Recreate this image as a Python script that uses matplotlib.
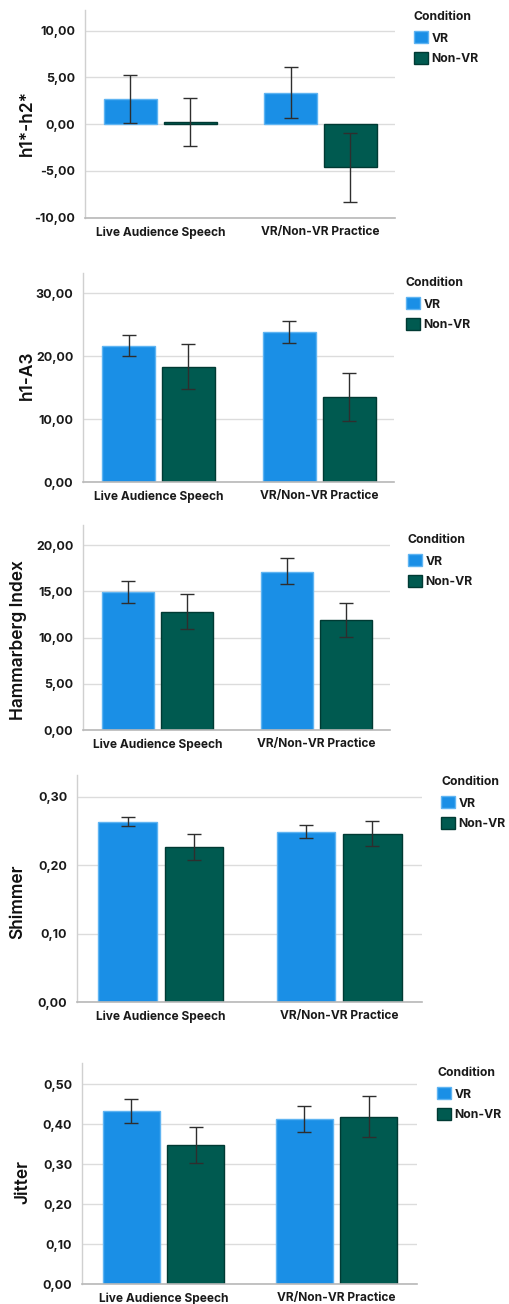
import matplotlib
matplotlib.use("Agg")
import matplotlib.pyplot as plt
from matplotlib.ticker import FuncFormatter

plt.rcParams["font.family"] = ["Inter", "DejaVu Sans"]

W, H = 509, 1304
DPI = 100

categories = ["Live Audience Speech", "VR/Non-VR Practice"]
conditions = ["VR", "Non-VR"]

# Means and 95% CI bounds per measure: [Live Audience Speech, VR/Non-VR Practice]
h1h2_vr = [2.65, 3.30]
h1h2_vr_lo = [0.15, 0.60]
h1h2_vr_hi = [5.20, 6.10]
h1h2_nvr = [0.20, -4.60]
h1h2_nvr_lo = [-2.30, -8.30]
h1h2_nvr_hi = [2.80, -0.95]

h1a3_vr = [21.6, 23.8]
h1a3_vr_lo = [20.0, 22.1]
h1a3_vr_hi = [23.3, 25.6]
h1a3_nvr = [18.2, 13.5]
h1a3_nvr_lo = [14.7, 9.7]
h1a3_nvr_hi = [21.9, 17.3]

hamm_vr = [14.9, 17.1]
hamm_vr_lo = [13.8, 15.8]
hamm_vr_hi = [16.1, 18.6]
hamm_nvr = [12.75, 11.9]
hamm_nvr_lo = [10.9, 10.1]
hamm_nvr_hi = [14.7, 13.8]

shim_vr = [0.263, 0.248]
shim_vr_lo = [0.257, 0.240]
shim_vr_hi = [0.271, 0.259]
shim_nvr = [0.226, 0.245]
shim_nvr_lo = [0.208, 0.228]
shim_nvr_hi = [0.245, 0.265]

jit_vr = [0.433, 0.412]
jit_vr_lo = [0.403, 0.381]
jit_vr_hi = [0.464, 0.445]
jit_nvr = [0.347, 0.418]
jit_nvr_lo = [0.304, 0.368]
jit_nvr_hi = [0.392, 0.471]

h1h2_ticks = [-10, -5, 0, 5, 10]
h1a3_ticks = [0, 10, 20, 30]
hamm_ticks = [0, 5, 10, 15, 20]
shim_ticks = [0.0, 0.1, 0.2, 0.3]
jit_ticks = [0.0, 0.1, 0.2, 0.3, 0.4, 0.5]

panels = [
    dict(label="h1*-h2*", vr=(h1h2_vr, h1h2_vr_lo, h1h2_vr_hi),
         nvr=(h1h2_nvr, h1h2_nvr_lo, h1h2_nvr_hi), ticks=h1h2_ticks,
         ylim=(-10.05, 12.2), box=(85, 10, 395, 218), ylab=(27, 123),
         leg=(414, 11)),
    dict(label="h1-A3", vr=(h1a3_vr, h1a3_vr_lo, h1a3_vr_hi),
         nvr=(h1a3_nvr, h1a3_nvr_lo, h1a3_nvr_hi), ticks=h1a3_ticks,
         ylim=(0, 33.2), box=(83, 273, 394, 482), ylab=(27, 375),
         leg=(406, 277)),
    dict(label="Hammarberg Index", vr=(hamm_vr, hamm_vr_lo, hamm_vr_hi),
         nvr=(hamm_nvr, hamm_nvr_lo, hamm_nvr_hi), ticks=hamm_ticks,
         ylim=(0, 22.2), box=(83, 525, 390, 730), ylab=(19, 640),
         leg=(408, 534)),
    dict(label="Shimmer", vr=(shim_vr, shim_vr_lo, shim_vr_hi),
         nvr=(shim_nvr, shim_nvr_lo, shim_nvr_hi), ticks=shim_ticks,
         ylim=(0, 0.332), box=(77, 775, 422, 1002), ylab=(18, 902),
         leg=(441, 776)),
    dict(label="Jitter", vr=(jit_vr, jit_vr_lo, jit_vr_hi),
         nvr=(jit_nvr, jit_nvr_lo, jit_nvr_hi), ticks=jit_ticks,
         ylim=(0, 0.553), box=(82, 1063, 417, 1284), ylab=(23, 1182),
         leg=(437, 1067)),
]

VR_FACE, VR_EDGE = "#1a8fe6", "#5fb4f2"
NVR_FACE, NVR_EDGE = "#005a50", "#003a33"
ERR_COLOR = "#2e2e2e"
GRID_COLOR = "#dcdcdc"
TEXT_COLOR = "#1a1a1a"

fig = plt.figure(figsize=(W / DPI, H / DPI), dpi=DPI)
fig.patch.set_facecolor("white")

width = 0.33
offset = 0.186
xs = list(range(len(categories)))


def fmt(v, _):
    return f"{v:.2f}".replace(".", ",")


for p in panels:
    l, t, r, b = p["box"]
    ax = fig.add_axes([l / W, 1 - b / H, (r - l) / W, (b - t) / H])
    ax.set_xlim(-0.47, 1.465)
    ax.set_ylim(*p["ylim"])

    for side in ["top", "right"]:
        ax.spines[side].set_visible(False)
    ax.spines["left"].set_color("#d0d0d0")
    ax.spines["left"].set_linewidth(1.0)
    ax.spines["bottom"].set_color("#b8b8b8")
    ax.spines["bottom"].set_linewidth(1.2)
    ax.spines["bottom"].set_position(("data", p["ylim"][0]))

    ax.set_yticks(p["ticks"])
    ax.yaxis.set_major_formatter(FuncFormatter(fmt))
    ax.grid(axis="y", color=GRID_COLOR, lw=1.0, zorder=0)
    ax.set_axisbelow(True)

    handles = []
    for (vals, lo, hi), sign, face, edge, name in [
        (p["vr"], -1, VR_FACE, VR_EDGE, "VR"),
        (p["nvr"], 1, NVR_FACE, NVR_EDGE, "Non-VR"),
    ]:
        pos = [x + sign * offset for x in xs]
        bars = ax.bar(pos, vals, width=width, color=face, edgecolor=edge,
                      linewidth=1.0, zorder=2, label=name)
        handles.append(bars)
        yerr = [[v - a for v, a in zip(vals, lo)], [c - v for v, c in zip(vals, hi)]]
        ax.errorbar(pos, vals, yerr=yerr, fmt="none", ecolor=ERR_COLOR,
                    elinewidth=1.0, capsize=5.0, capthick=1.0, zorder=3)

    ax.set_xticks(xs)
    ax.set_xticklabels(categories, fontsize=8.6, fontweight="bold", color=TEXT_COLOR)
    ax.tick_params(axis="both", length=0)
    ax.tick_params(axis="x", pad=6)
    ax.tick_params(axis="y", pad=7, labelsize=9, labelcolor=TEXT_COLOR)
    for lab in ax.get_yticklabels():
        lab.set_fontweight("bold")

    fig.text(p["ylab"][0] / W, 1 - p["ylab"][1] / H, p["label"], rotation=90,
             ha="center", va="center", fontsize=12.5, fontweight="semibold",
             color="#111111")

    lx, ly = p["leg"]
    leg = ax.legend(handles=handles, labels=conditions, title="Condition",
                    loc="upper left", bbox_to_anchor=(lx / W, 1 - ly / H),
                    bbox_transform=fig.transFigure, frameon=False,
                    prop={"size": 8.8, "weight": "bold"},
                    title_fontproperties={"size": 8.8, "weight": "bold"},
                    handlelength=1.15, handleheight=1.15, handletextpad=0.3,
                    labelspacing=0.6, borderpad=0, borderaxespad=0,
                    alignment="left")
    leg._legend_box.sep = 6
    for txt in leg.get_texts():
        txt.set_color(TEXT_COLOR)
    leg.get_title().set_color(TEXT_COLOR)

fig.savefig("out.png", dpi=DPI, facecolor="white")
